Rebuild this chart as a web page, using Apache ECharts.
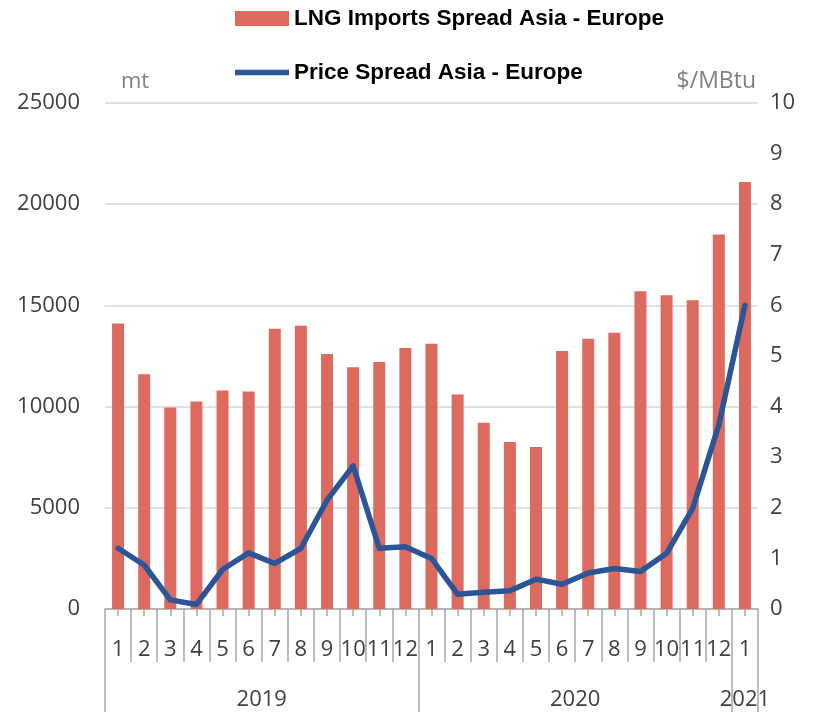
<!DOCTYPE html>
<html>
<head>
<meta charset="utf-8">
<script src="https://cdn.jsdelivr.net/npm/echarts@6/dist/echarts.min.js"></script>
<style>
  html, body { margin: 0; padding: 0; background: #fff; }
  #chart { width: 813px; height: 712px; }
</style>
</head>
<body>
<div id="chart"></div>
<script>
// months 2019-01 .. 2021-01
var months = ["1","2","3","4","5","6","7","8","9","10","11","12",
              "1","2","3","4","5","6","7","8","9","10","11","12","1"];
var years = ["2019", "2020", "2021"];
var yearMid = [6, 18, 24.5];
var yearStart = [0, 12, 24];

// LNG imports spread Asia - Europe (mt)
var importsSpread = [14100, 11600, 9950, 10250, 10800, 10750, 13850, 14000, 12600, 11950, 12200, 12900,
                     13100, 10600, 9200, 8250, 8000, 12750, 13350, 13650, 15700, 15500, 15250, 18500, 21100];
// price spread Asia - Europe ($/MBtu)
var priceSpread = [1.2, 0.87, 0.18, 0.09, 0.78, 1.11, 0.9, 1.2, 2.15, 2.83, 1.2, 1.23,
                   1.0, 0.29, 0.33, 0.36, 0.59, 0.49, 0.71, 0.8, 0.74, 1.1, 1.99, 3.64, 6.0];

var txt = "#404040";
var fnt = "'Open Sans', 'Noto Sans', sans-serif";
var gray = "#a6a6a6";

var myChart = echarts.init(document.getElementById("chart"));
var option = {
  animation: false,
  textStyle: { fontFamily: fnt },
  legend: {
    orient: "vertical",
    left: 230,
    top: 0,
    itemGap: 27,
    itemWidth: 54,
    itemHeight: 15,
    textStyle: {
      fontFamily: "'Liberation Sans', Arial, sans-serif",
      fontWeight: "bold",
      fontSize: 22.5,
      lineHeight: 27,
      color: "#000"
    },
    data: [
      { name: "LNG Imports Spread Asia - Europe", icon: "rect" },
      { name: "Price Spread Asia - Europe", icon: "path://M0,0 L57,0 L57,6 L0,6 Z" }
    ]
  },
  grid: { left: 105, right: 55, top: 103, bottom: 103 },
  xAxis: [
    {
      // month labels + boundary separators
      type: "category",
      data: months,
      boundaryGap: true,
      axisLine: { lineStyle: { color: gray, width: 1.5 } },
      axisTick: { show: true, interval: 0, length: 53, lineStyle: { color: gray, width: 1.5 } },
      axisLabel: { interval: 0, fontSize: 22, color: txt, margin: 30, fontFamily: fnt }
    },
    {
      // year labels
      type: "value",
      position: "bottom",
      offset: 53,
      min: 0,
      max: 25,
      splitLine: { show: false },
      axisLine: { show: false },
      axisTick: { show: false },
      axisLabel: {
        customValues: yearMid,
        fontSize: 22,
        color: txt,
        margin: 27,
        fontFamily: fnt,
        formatter: function (v) {
          return years[yearMid.indexOf(v)];
        }
      }
    },
    {
      // small ticks at category centres
      type: "category",
      data: months,
      position: "bottom",
      boundaryGap: true,
      axisLine: { show: false },
      axisLabel: { show: false },
      axisTick: { show: true, alignWithLabel: true, interval: 0, length: 7, lineStyle: { color: gray, width: 1.5 } }
    },
    {
      // year separators
      type: "category",
      data: months,
      position: "bottom",
      offset: 53,
      boundaryGap: true,
      axisLine: { show: false },
      axisLabel: { show: false },
      axisTick: {
        show: true,
        length: 50,
        lineStyle: { color: gray, width: 1.5 },
        interval: function (index) {
          return yearStart.indexOf(index) >= 0;
        }
      }
    }
  ],
  yAxis: [
    {
      type: "value",
      min: 0,
      max: 25000,
      interval: 5000,
      name: "mt",
      nameLocation: "end",
      nameGap: 10,
      nameTextStyle: { align: "left", padding: [0, 0, 0, 16], fontSize: 22, color: "#808080", fontFamily: fnt },
      axisLine: { show: false },
      axisTick: { show: false },
      axisLabel: { fontSize: 22, color: txt, margin: 25, fontFamily: fnt, formatter: function (v) { return String(v); } },
      splitLine: { lineStyle: { color: "#d9d9d9", width: 1.5 } }
    },
    {
      type: "value",
      min: 0,
      max: 10,
      interval: 1,
      name: "$/MBtu",
      nameLocation: "end",
      nameGap: 10,
      nameTextStyle: { align: "right", padding: [0, 2, 0, 0], fontSize: 23, color: "#808080", fontFamily: fnt },
      axisLine: { show: false },
      axisTick: { show: false },
      axisLabel: { fontSize: 22, color: txt, margin: 12, fontFamily: fnt },
      splitLine: { show: false }
    }
  ],
  series: [
    {
      name: "LNG Imports Spread Asia - Europe",
      type: "bar",
      xAxisIndex: 0,
      yAxisIndex: 0,
      barWidth: 12,
      itemStyle: { color: "#dd6a5e" },
      data: importsSpread
    },
    {
      name: "Price Spread Asia - Europe",
      type: "line",
      xAxisIndex: 0,
      yAxisIndex: 1,
      symbol: "none",
      lineStyle: { color: "#2b5597", width: 5.5, join: "round", cap: "round" },
      itemStyle: { color: "#2b5597" },
      data: priceSpread
    }
  ]
};
myChart.setOption(option);
</script>
</body>
</html>
